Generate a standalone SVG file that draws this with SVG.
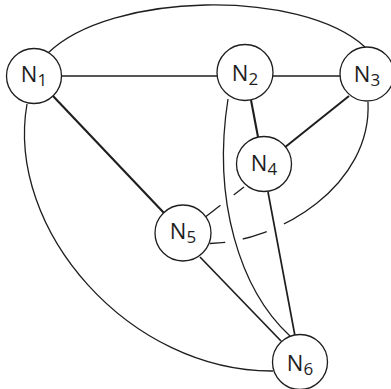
<svg xmlns="http://www.w3.org/2000/svg" width="391" height="389" viewBox="0 0 391 389">
<style>
.e{fill:none;stroke:#1e1e1e;stroke-width:1.3}
.t{stroke-width:2.1}
.m{stroke-width:1.7}
.n circle{fill:#fff;stroke:#1e1e1e;stroke-width:1.3}
.n text{font-family:"Open Sans","Liberation Sans",sans-serif;font-size:22px;fill:#1e1e1e;text-anchor:middle}
.n tspan{font-size:17px}
</style>
<defs>
<mask id="m45" maskUnits="userSpaceOnUse" x="0" y="0" width="391" height="389">
<rect x="0" y="0" width="391" height="389" fill="#fff"/>
<circle cx="227" cy="200" r="8.5" fill="#000"/>
</mask>
<mask id="m35" maskUnits="userSpaceOnUse" x="0" y="0" width="391" height="389">
<rect x="0" y="0" width="391" height="389" fill="#fff"/>
<circle cx="234" cy="241" r="9" fill="#000"/>
<circle cx="275.5" cy="228" r="9.5" fill="#000"/>
</mask>
</defs>
<rect width="391" height="389" fill="#fff"/>
<g id="connectors">
<path class="e" d="M62,76 L217,76"/>
<path class="e" d="M273,76 L341,76"/>
<path class="e" d="M48,53 C110,-8 300,-12 365,47"/>
<path class="e t" d="M53,96 L164,213"/>
<path class="e" d="M27,104 C5,230 130,372 273,371"/>
<path class="e t" d="M251,100 L258,137"/>
<path class="e t" d="M349,96 L284,148"/>
<path class="e" d="M228,99 C212,200 240,290 290,336"/>
<path class="e m" d="M268,192 L295,336"/>
<path class="e m" d="M200,257 L281,341"/>
<path class="e" d="M244,187 L204,218" mask="url(#m45)"/>
<path class="e" d="M210,243.5 C280,242 372,185 368,102" mask="url(#m35)"/>
</g>
<g id="N1" class="n"><circle cx="34" cy="76" r="27.5"/><text x="34" y="82">N<tspan dy="4">1</tspan></text></g>
<g id="N2" class="n"><circle cx="245" cy="72.5" r="28"/><text x="245" y="81">N<tspan dy="4">2</tspan></text></g>
<g id="N3" class="n"><circle cx="367" cy="74" r="27"/><text x="367" y="82">N<tspan dy="4">3</tspan></text></g>
<g id="N4" class="n"><circle cx="264" cy="164" r="27.5"/><text x="264" y="171">N<tspan dy="4">4</tspan></text></g>
<g id="N5" class="n"><circle cx="183" cy="233" r="28"/><text x="183" y="239">N<tspan dy="4">5</tspan></text></g>
<g id="N6" class="n"><circle cx="300" cy="362" r="27.5"/><text x="300" y="371">N<tspan dy="4">6</tspan></text></g>
</svg>
